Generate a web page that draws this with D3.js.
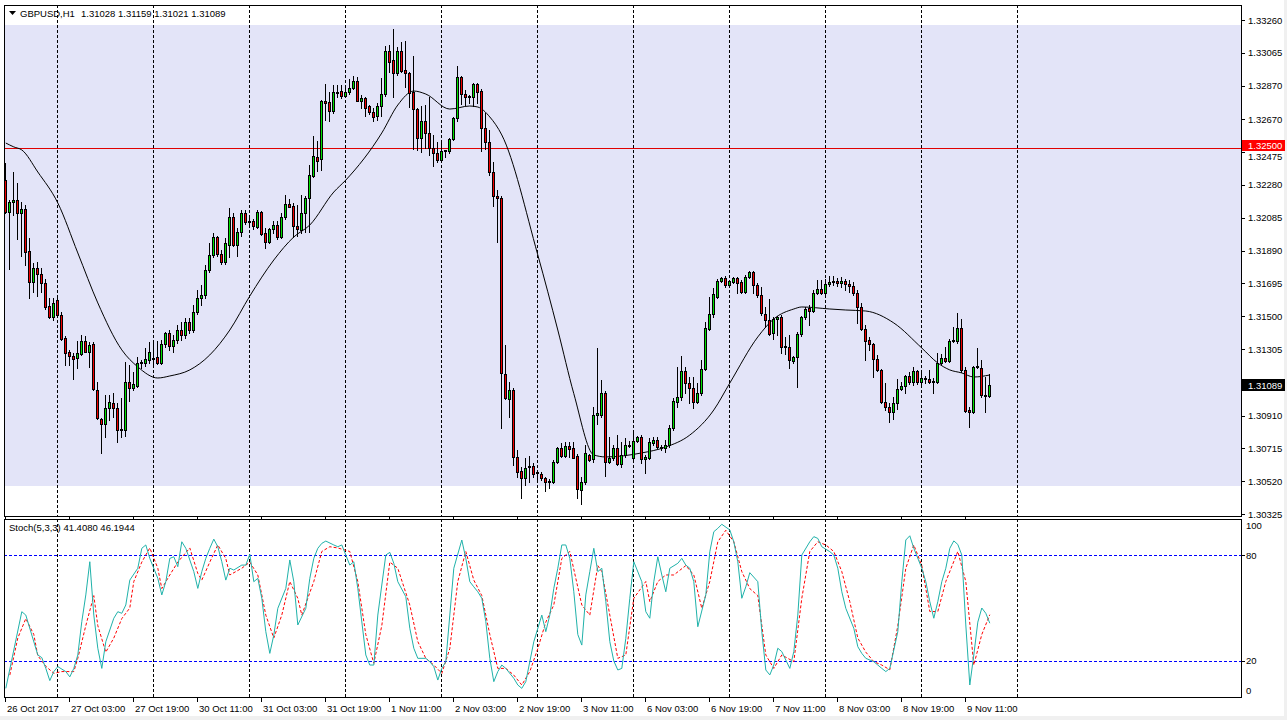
<!DOCTYPE html>
<html><head><meta charset="utf-8">
<script src="https://cdn.jsdelivr.net/npm/d3@7"></script>
<style>
html,body{margin:0;padding:0;background:#fff;overflow:hidden;}
svg{display:block;}
text{font-family:"Liberation Sans",Arial,sans-serif;font-size:9.5px;fill:#000;}
</style></head><body>
<svg id="c" width="1287" height="720"></svg>
<script>
// ---------- DATA ----------
const symbolTitle = "GBPUSD,H1";
const lastBarText = "1.31028 1.31159 1.31021 1.31089";
const stochTitle = "Stoch(5,3,3) 41.4080 46.1944";

const openP = [1.32310,1.32119,1.32179,1.32191,1.32113,1.32137,1.31888,1.31703,1.31786,1.31751,1.31697,1.31561,1.31495,1.31597,1.31507,1.31371,1.31288,1.31264,1.31252,1.31276,1.31353,1.31288,1.31335,1.31062,1.30890,1.30860,1.30955,1.30985,1.30955,1.30824,1.30824,1.31109,1.31074,1.31085,1.31222,1.31222,1.31240,1.31252,1.31258,1.31222,1.31335,1.31400,1.31323,1.31359,1.31418,1.31389,1.31466,1.31418,1.31525,1.31608,1.31626,1.31775,1.31864,1.31971,1.31870,1.31822,1.31924,1.32090,1.31924,1.32001,1.32113,1.32066,1.32066,1.32030,1.32119,1.31995,1.31941,1.32019,1.32042,1.31971,1.32090,1.32167,1.32155,1.32036,1.32013,1.32113,1.32203,1.32333,1.32446,1.32434,1.32779,1.32773,1.32719,1.32832,1.32838,1.32809,1.32832,1.32856,1.32898,1.32779,1.32797,1.32749,1.32713,1.32690,1.32749,1.32820,1.33076,1.33022,1.32945,1.33076,1.32963,1.32945,1.32832,1.32731,1.32559,1.32660,1.32589,1.32500,1.32470,1.32428,1.32482,1.32482,1.32553,1.32678,1.32922,1.32820,1.32809,1.32803,1.32880,1.32838,1.32618,1.32536,1.32357,1.32214,1.32203,1.31157,1.31009,1.31062,1.30664,1.30581,1.30539,1.30605,1.30611,1.30569,1.30563,1.30539,1.30515,1.30515,1.30634,1.30717,1.30670,1.30729,1.30717,1.30670,1.30468,1.30515,1.30676,1.30652,1.30914,1.30914,1.31044,1.30634,1.30658,1.30717,1.30622,1.30676,1.30729,1.30658,1.30759,1.30782,1.30652,1.30658,1.30747,1.30765,1.30723,1.30717,1.30735,1.30836,1.30991,1.31021,1.31175,1.31103,1.31074,1.30991,1.31044,1.31187,1.31424,1.31513,1.31614,1.31709,1.31727,1.31686,1.31703,1.31727,1.31703,1.31644,1.31733,1.31763,1.31686,1.31626,1.31513,1.31478,1.31400,1.31484,1.31495,1.31323,1.31318,1.31234,1.31258,1.31395,1.31495,1.31549,1.31531,1.31638,1.31662,1.31638,1.31692,1.31703,1.31709,1.31697,1.31709,1.31692,1.31680,1.31638,1.31555,1.31424,1.31359,1.31335,1.31247,1.31181,1.30991,1.30961,1.30931,1.30985,1.31068,1.31085,1.31145,1.31109,1.31175,1.31109,1.31128,1.31128,1.31115,1.31109,1.31222,1.31252,1.31234,1.31353,1.31353,1.31430,1.31181,1.30943,1.30931,1.31199,1.31193,1.31032,1.31028];
const highP = [1.32410,1.32191,1.32357,1.32292,1.32179,1.32161,1.31965,1.31816,1.31822,1.31786,1.31722,1.31608,1.31608,1.31614,1.31525,1.31383,1.31300,1.31282,1.31353,1.31389,1.31383,1.31347,1.31347,1.31109,1.30896,1.31032,1.31032,1.31044,1.30985,1.31015,1.31228,1.31210,1.31169,1.31258,1.31240,1.31312,1.31347,1.31347,1.31353,1.31359,1.31406,1.31418,1.31389,1.31448,1.31466,1.31489,1.31489,1.31567,1.31656,1.31686,1.31804,1.31935,1.31995,1.31977,1.31894,1.31965,1.32143,1.32113,1.32025,1.32131,1.32131,1.32084,1.32078,1.32131,1.32125,1.32025,1.32025,1.32066,1.32066,1.32113,1.32221,1.32197,1.32173,1.32161,1.32221,1.32215,1.32398,1.32571,1.32541,1.32785,1.32880,1.32832,1.32874,1.32874,1.32874,1.32856,1.32910,1.32928,1.32922,1.32815,1.32803,1.32755,1.32737,1.32767,1.32916,1.33105,1.33111,1.33207,1.33099,1.33129,1.33135,1.32951,1.33046,1.32737,1.32749,1.32755,1.32803,1.32577,1.32536,1.32530,1.32488,1.32559,1.32684,1.32987,1.32928,1.32844,1.32815,1.32886,1.32886,1.32850,1.32707,1.32607,1.32416,1.32250,1.32214,1.31329,1.31109,1.31074,1.30706,1.30605,1.30658,1.30670,1.30628,1.30587,1.30575,1.30545,1.30533,1.30646,1.30723,1.30747,1.30753,1.30753,1.30753,1.30682,1.30545,1.30735,1.30682,1.30961,1.31312,1.31121,1.31056,1.30782,1.30735,1.30794,1.30753,1.30776,1.30759,1.30812,1.30788,1.30794,1.30676,1.30776,1.30782,1.30782,1.30735,1.30765,1.30854,1.31015,1.31199,1.31264,1.31199,1.31140,1.31140,1.31103,1.31240,1.31466,1.31614,1.31668,1.31722,1.31733,1.31739,1.31715,1.31733,1.31733,1.31715,1.31745,1.31769,1.31769,1.31697,1.31674,1.31555,1.31603,1.31495,1.31501,1.31507,1.31377,1.31389,1.31264,1.31406,1.31501,1.31555,1.31567,1.31656,1.31715,1.31715,1.31722,1.31739,1.31739,1.31727,1.31733,1.31722,1.31715,1.31703,1.31656,1.31579,1.31448,1.31377,1.31341,1.31270,1.31187,1.31103,1.30985,1.31021,1.31128,1.31109,1.31151,1.31169,1.31199,1.31181,1.31181,1.31145,1.31181,1.31133,1.31282,1.31276,1.31318,1.31365,1.31436,1.31519,1.31484,1.31199,1.30961,1.31205,1.31312,1.31240,1.31140,1.31159];
const lowP = [1.32113,1.31781,1.32101,1.31960,1.31858,1.31804,1.31608,1.31644,1.31620,1.31644,1.31544,1.31489,1.31478,1.31501,1.31359,1.31210,1.31210,1.31128,1.31193,1.31270,1.31288,1.31199,1.31062,1.30890,1.30688,1.30782,1.30884,1.30902,1.30753,1.30782,1.30788,1.30997,1.31062,1.31080,1.31193,1.31205,1.31222,1.31199,1.31216,1.31216,1.31318,1.31300,1.31288,1.31341,1.31359,1.31371,1.31400,1.31406,1.31513,1.31567,1.31608,1.31763,1.31852,1.31858,1.31810,1.31810,1.31852,1.31918,1.31858,1.31977,1.32048,1.32042,1.32019,1.32025,1.31983,1.31906,1.31936,1.31995,1.31960,1.31965,1.32078,1.32149,1.31971,1.31977,1.31995,1.32001,1.32001,1.32328,1.32363,1.32369,1.32666,1.32660,1.32707,1.32803,1.32797,1.32803,1.32820,1.32850,1.32779,1.32737,1.32690,1.32701,1.32660,1.32666,1.32690,1.32809,1.32951,1.32803,1.32933,1.32951,1.32862,1.32743,1.32494,1.32488,1.32476,1.32500,1.32458,1.32392,1.32416,1.32416,1.32446,1.32470,1.32547,1.32660,1.32761,1.32755,1.32767,1.32749,1.32767,1.32482,1.32494,1.32339,1.32155,1.31941,1.30836,1.31009,1.30902,1.30616,1.30545,1.30420,1.30497,1.30515,1.30545,1.30527,1.30527,1.30462,1.30480,1.30509,1.30628,1.30664,1.30664,1.30664,1.30658,1.30420,1.30385,1.30503,1.30640,1.30634,1.30860,1.30902,1.30551,1.30628,1.30646,1.30616,1.30605,1.30664,1.30723,1.30652,1.30753,1.30628,1.30569,1.30652,1.30735,1.30717,1.30706,1.30694,1.30723,1.30824,1.30961,1.31003,1.31044,1.30985,1.30955,1.30985,1.31032,1.31181,1.31418,1.31495,1.31608,1.31703,1.31674,1.31674,1.31697,1.31638,1.31638,1.31638,1.31727,1.31638,1.31614,1.31507,1.31436,1.31389,1.31365,1.31389,1.31282,1.31276,1.31193,1.31222,1.31080,1.31383,1.31484,1.31448,1.31525,1.31632,1.31632,1.31632,1.31680,1.31686,1.31680,1.31674,1.31656,1.31644,1.31626,1.31460,1.31418,1.31240,1.31300,1.31140,1.31175,1.30985,1.30943,1.30872,1.30890,1.30949,1.31062,1.31044,1.31097,1.31091,1.31097,1.31080,1.31103,1.31103,1.31044,1.31103,1.31216,1.31228,1.31228,1.31347,1.31341,1.31169,1.30931,1.30842,1.30925,1.31193,1.31020,1.30931,1.31021];
const closeP = [1.32119,1.32179,1.32191,1.32113,1.32137,1.31882,1.31703,1.31786,1.31751,1.31697,1.31555,1.31495,1.31579,1.31507,1.31365,1.31282,1.31264,1.31247,1.31282,1.31353,1.31288,1.31329,1.31068,1.30896,1.30860,1.30955,1.30991,1.30955,1.30824,1.30830,1.31109,1.31074,1.31097,1.31222,1.31228,1.31247,1.31288,1.31247,1.31222,1.31335,1.31400,1.31323,1.31359,1.31418,1.31389,1.31466,1.31418,1.31525,1.31608,1.31626,1.31775,1.31864,1.31971,1.31870,1.31822,1.31936,1.32090,1.31924,1.32001,1.32113,1.32060,1.32060,1.32036,1.32119,1.31989,1.31941,1.32019,1.32042,1.31971,1.32090,1.32167,1.32149,1.32036,1.32019,1.32113,1.32203,1.32339,1.32452,1.32422,1.32779,1.32767,1.32719,1.32832,1.32826,1.32809,1.32832,1.32856,1.32898,1.32779,1.32797,1.32737,1.32713,1.32684,1.32749,1.32820,1.33076,1.33010,1.32945,1.33076,1.32957,1.32945,1.32826,1.32731,1.32559,1.32660,1.32589,1.32500,1.32470,1.32428,1.32482,1.32485,1.32553,1.32678,1.32922,1.32820,1.32803,1.32803,1.32880,1.32832,1.32618,1.32536,1.32357,1.32214,1.32203,1.31163,1.31015,1.31062,1.30664,1.30575,1.30539,1.30599,1.30611,1.30563,1.30572,1.30539,1.30515,1.30521,1.30634,1.30717,1.30670,1.30729,1.30711,1.30658,1.30474,1.30515,1.30688,1.30646,1.30914,1.30926,1.31044,1.30634,1.30658,1.30717,1.30622,1.30676,1.30735,1.30735,1.30759,1.30782,1.30652,1.30664,1.30753,1.30765,1.30723,1.30717,1.30735,1.30836,1.30997,1.31021,1.31175,1.31103,1.31074,1.30991,1.31044,1.31187,1.31430,1.31513,1.31632,1.31709,1.31727,1.31686,1.31709,1.31727,1.31697,1.31644,1.31733,1.31763,1.31686,1.31626,1.31519,1.31478,1.31395,1.31484,1.31495,1.31318,1.31318,1.31240,1.31258,1.31395,1.31495,1.31543,1.31531,1.31638,1.31662,1.31638,1.31692,1.31703,1.31709,1.31697,1.31709,1.31692,1.31680,1.31638,1.31555,1.31424,1.31353,1.31335,1.31247,1.31181,1.30991,1.30961,1.30931,1.30985,1.31068,1.31085,1.31145,1.31109,1.31175,1.31109,1.31133,1.31131,1.31109,1.31109,1.31222,1.31252,1.31234,1.31353,1.31356,1.31430,1.31181,1.30937,1.30931,1.31199,1.31202,1.31032,1.31029,1.31089];

// moving average (at sample bars)
const maIdx = [0,2,4,8,13,18,23,29,33,38,41,46,51,56,61,67,72,76,82,85,94,98,102,105,111,116,118,121,124,133,138,142,147,150,159,165,171,177,181,188,192,197,199,206,210,215,222,229,233,236,239,242,246];
const maVal = [1.32529,1.32506,1.32488,1.32357,1.32173,1.31876,1.31579,1.31300,1.31199,1.31133,1.31145,1.31181,1.31270,1.31418,1.31620,1.31834,1.31971,1.32042,1.32238,1.32309,1.32589,1.32755,1.32838,1.32820,1.32731,1.32749,1.32743,1.32684,1.32577,1.31864,1.31418,1.31040,1.30676,1.30664,1.30688,1.30723,1.30794,1.30943,1.31103,1.31377,1.31484,1.31543,1.31555,1.31543,1.31537,1.31531,1.31460,1.31311,1.31222,1.31181,1.31163,1.31139,1.31151];

// stochastic %K and %D
const kIdx = [0,4,5,8,9,10,11,12,13,15,16,17,18,19,20,21,22,23,24,25,27,28,29,30,31,33,34,35,36,38,39,40,41,42,43,44,45,47,48,49,50,51,52,53,54,55,56,57,59,60,61,62,63,64,65,66,67,68,70,71,72,73,75,76,77,78,79,80,82,83,84,85,86,87,88,90,91,92,93,95,96,97,98,100,101,102,103,105,106,107,108,109,110,111,112,114,115,116,117,118,119,120,121,122,123,124,125,127,128,129,130,131,132,134,135,136,137,138,139,140,141,142,143,144,145,146,147,148,149,150,151,152,153,154,155,156,157,159,160,161,162,163,164,165,166,168,169,170,171,172,173,175,176,177,178,179,181,182,183,184,185,186,188,189,190,191,192,193,194,196,197,198,199,201,202,203,204,206,207,208,209,210,212,213,214,215,217,218,219,220,221,223,224,225,226,227,229,230,231,232,233,234,235,236,237,238,239,240,241,242,243,244,245,246];
const kVal = [4.5,47.9,46,23.4,21.9,15.8,8.9,14,16.8,14,11,15.8,23.4,42.3,57.4,76.2,46,27.2,15.8,30.9,44.2,47.9,47,51.7,65.8,72.5,83.8,85.7,78.1,66.8,57.4,64.9,78.1,79,73.4,87.5,83.8,70.6,61.1,70.6,78.1,83.8,89,84.7,76.2,65.8,72.5,71.5,74.3,74.3,80.4,64.9,66.8,55.5,36.6,24.3,34.7,49.8,61.1,77.2,64.9,40.4,49.8,66.8,78.1,83.8,86.6,87.9,85.7,84.7,85.7,80,74.3,76.2,61.1,23.4,17.7,17.7,46,80,81.5,75.3,64.9,56.4,38.5,27.2,21.5,21.5,19.6,16.8,9.2,15.8,19.6,46,72.5,88.5,78.1,64.9,62,59.2,55.5,42.3,21.5,8.3,14,17.7,15.8,10.2,6.4,4.5,8.3,19.6,30.9,46,36.6,46,61.1,72.5,85.7,85.7,78.1,59.2,35,29,57.4,70.6,83.8,70.6,72.5,53.6,31,20,14.9,15.8,32.8,55.5,76.2,64.9,47.9,44.2,64.9,79,68.7,59.2,72.5,75.3,78.1,74.3,72.5,64.9,39.4,57.4,81.9,93.2,95.1,97.4,94.2,87.5,76.2,55.5,62,70,64.9,36.6,14.9,12.1,17.7,27.2,25.3,15.8,25.3,46,80,87.5,90.4,89.4,84.7,81.9,80,72.5,59.2,49.8,38.5,28.1,24.3,21.5,19.6,17.7,15.8,14,15.8,36.6,64.9,88.5,90.9,83.8,72.5,64.9,53.6,44.2,53.6,64.9,72.5,83.8,88,86,80,40.4,6.4,23.4,42,50,47,41.4];
const dIdx = [1,3,5,7,8,10,12,14,17,18,20,22,23,25,27,29,31,32,34,36,38,39,41,43,46,48,49,51,53,55,56,59,61,63,65,67,69,71,73,74,77,79,81,83,86,88,90,92,94,96,98,101,103,105,107,109,111,113,115,117,119,121,123,125,127,129,131,133,135,137,139,141,144,146,148,149,151,153,155,157,160,161,163,165,167,170,172,174,176,178,180,182,184,186,188,190,192,194,197,199,201,203,205,207,209,211,213,215,217,219,221,223,225,227,229,231,233,235,238,240,242,244,246];
const dVal = [12,33,44,35,23,17,13,14,14,21.5,40,57,40,25,33,44,50,65,76,84,72.5,61,68.7,76,84,69.6,65.8,76,85.7,78,68.7,72.5,76,68.7,46,33,46,65,55.5,46,65,82,84.7,84,82,65,35,18.7,40,76,72.5,51.7,31,21.5,17.7,13,27,65,82,65.8,57,35,15.8,15.8,12,6.4,14,27,42,51.7,78,82,51.7,46,74,70.6,46,21.5,23.4,55.5,65,53.6,65,68.7,68.7,74,68.7,49.8,65,87.5,94,87.5,70.6,61,57,23.4,15.8,23.4,19.6,55.5,82,87.5,85.7,82,70.6,53.6,33,25,19.6,17.7,15,40,72.5,85.7,74,48,48,65,82,65,17.7,35,46.2];
const stochLevels = [80, 20];
const stochTicks = [100, 80, 20, 0];

const priceTicks = ["1.33260","1.33065","1.32870","1.32670","1.32475","1.32280","1.32085","1.31890","1.31695","1.31500","1.31305","1.31105","1.30910","1.30715","1.30520","1.30325"];
const hLinePrice = 1.32500;
const lastPrice = 1.31089;
const bandTop = 1.33230, bandBottom = 1.30491;

const timeLabels = ["26 Oct 2017","27 Oct 03:00","27 Oct 19:00","30 Oct 11:00","31 Oct 03:00","31 Oct 19:00","1 Nov 11:00","2 Nov 03:00","2 Nov 19:00","3 Nov 11:00","6 Nov 03:00","6 Nov 19:00","7 Nov 11:00","8 Nov 03:00","8 Nov 19:00","9 Nov 11:00"];
const timeLabelIdx = [0,16,32,48,64,80,96,112,128,144,160,176,192,208,224,240];
const gridIdx = [13,37,61,85,109,133,157,181,205,229,253];

// ---------- LAYOUT ----------
const L = 4, R = 1241, mainTop = 5, mainBot = 516, stTop = 519, stBot = 697;
const svg = d3.select('#c');
const x = d3.scaleLinear().domain([0, 246]).range([5.3, 989.3]);
const y = d3.scaleLinear().domain([1.30325, 1.33260]).range([514, 20]);
const ys = d3.scaleLinear().domain([0, 100]).range([696.3, 519.7]);
const px = i => Math.round(x(i));

const defs = svg.append('defs');
defs.append('clipPath').attr('id','clipMain').append('rect').attr('x',L+1).attr('y',mainTop+1).attr('width',R-L-1).attr('height',mainBot-mainTop-1);
defs.append('clipPath').attr('id','clipSt').append('rect').attr('x',L+1).attr('y',stTop+1).attr('width',R-L-1).attr('height',stBot-stTop-1);

svg.append('rect').attr('width',1287).attr('height',720).attr('fill','#fff');
svg.append('rect').attr('x',1284).attr('y',0).attr('width',3).attr('height',720).attr('fill','#f0f0f0');
svg.append('rect').attr('x',0).attr('y',716).attr('width',1287).attr('height',4).attr('fill','#f0f0f0');

// band
const gm = svg.append('g').attr('clip-path','url(#clipMain)');
gm.append('rect').attr('x',L).attr('width',R-L).attr('y',Math.round(y(bandTop))).attr('height',Math.round(y(bandBottom))-Math.round(y(bandTop))).attr('fill','#e3e4f8');

// grid lines
gm.selectAll('line.grid').data(gridIdx).join('line')
  .attr('x1',d=>px(d)+0.5).attr('x2',d=>px(d)+0.5).attr('y1',mainTop).attr('y2',mainBot)
  .attr('stroke','#000').attr('stroke-dasharray','3,2');

// horizontal line
gm.append('line').attr('x1',L).attr('x2',R).attr('y1',Math.round(y(hLinePrice))+0.5).attr('y2',Math.round(y(hLinePrice))+0.5).attr('stroke','#e00000');

// MA
gm.append('path').datum(maIdx.map((d,k)=>[d,maVal[k]]))
  .attr('d', d3.line().curve(d3.curveMonotoneX).x(d=>x(d[0])+0.5).y(d=>y(d[1])))
  .attr('fill','none').attr('stroke','#000').attr('stroke-width',1);

// candles
const idx = d3.range(closeP.length);
const cg = gm.append('g').attr('shape-rendering','crispEdges');
cg.selectAll('line.w').data(idx).join('line')
  .attr('x1',i=>px(i)+0.5).attr('x2',i=>px(i)+0.5)
  .attr('y1',i=>Math.round(y(highP[i]))).attr('y2',i=>Math.round(y(lowP[i]))+1)
  .attr('stroke','#000');
idx.forEach(i=>{
  const yO = Math.round(y(openP[i])), yC = Math.round(y(closeP[i]));
  const top = Math.min(yO,yC), bot = Math.max(yO,yC), c = px(i);
  if (bot - top < 1) {
    cg.append('line').attr('x1',c-1).attr('x2',c+2).attr('y1',top+0.5).attr('y2',top+0.5).attr('stroke','#000');
  } else {
    cg.append('rect').attr('x',c-0.5).attr('y',top+0.5).attr('width',2).attr('height',bot-top)
      .attr('fill', closeP[i] > openP[i] ? '#00e000' : '#f00000').attr('stroke','#000');
  }
});

// frames
svg.append('rect').attr('x',L+0.5).attr('y',mainTop+0.5).attr('width',R-L).attr('height',mainBot-mainTop).attr('fill','none').attr('stroke','#000');
svg.append('rect').attr('x',L+0.5).attr('y',stTop+0.5).attr('width',R-L).attr('height',stBot-stTop).attr('fill','none').attr('stroke','#000');

// header
svg.append('path').attr('d','M9,11 L16,11 L12.5,15 Z').attr('fill','#000');
svg.append('text').attr('x',20).attr('y',17).text(symbolTitle);
svg.append('text').attr('x',81).attr('y',17).text(lastBarText);

// price axis
const yh = Math.round(y(hLinePrice));
const yl = Math.round(y(lastPrice));
const pa = svg.append('g');
pa.selectAll('line').data(priceTicks).join('line')
  .attr('x1',R).attr('x2',R+4).attr('y1',d=>Math.round(y(+d))+0.5).attr('y2',d=>Math.round(y(+d))+0.5).attr('stroke','#000');
pa.selectAll('text').data(priceTicks).join('text')
  .attr('x',R+7)
  .attr('y',d=>{ const v = y(+d); const dd = v - yh; return (dd > 0 && dd < 11) ? yh + 11.5 : v + 3.5; })
  .text(d=>d);
// red marker for the horizontal line, black marker for the last price
pa.append('rect').attr('x',R+1).attr('y',yh-8).attr('width',43).attr('height',11).attr('fill','#ff0000');
pa.append('text').attr('x',R+7).attr('y',yh+0.5).style('fill','#fff').text(hLinePrice.toFixed(5));
pa.append('rect').attr('x',R+1).attr('y',yl-6).attr('width',43).attr('height',12).attr('fill','#000');
pa.append('text').attr('x',R+7).attr('y',yl+3.5).style('fill','#fff').text(lastPrice.toFixed(5));

// stochastic panel
const gs = svg.append('g').attr('clip-path','url(#clipSt)');
gs.selectAll('line.grid').data(gridIdx).join('line')
  .attr('x1',d=>px(d)+0.5).attr('x2',d=>px(d)+0.5).attr('y1',stTop).attr('y2',stBot)
  .attr('stroke','#000').attr('stroke-dasharray','3,2');
gs.selectAll('line.lvl').data(stochLevels).join('line')
  .attr('x1',L).attr('x2',R).attr('y1',d=>Math.round(ys(d))+0.5).attr('y2',d=>Math.round(ys(d))+0.5)
  .attr('stroke','#0000ff').attr('stroke-dasharray','3,2');
gs.append('path').datum(dIdx.map((d,k)=>[d,dVal[k]]))
  .attr('d', d3.line().x(d=>x(d[0])+0.5).y(d=>ys(d[1])))
  .attr('fill','none').attr('stroke','#ff0000').attr('stroke-dasharray','3,2');
gs.append('path').datum(kIdx.map((d,k)=>[d,kVal[k]]))
  .attr('d', d3.line().x(d=>x(d[0])+0.5).y(d=>ys(d[1])))
  .attr('fill','none').attr('stroke','#20b2aa');
svg.append('text').attr('x',9).attr('y',531).text(stochTitle);

const sa = svg.append('g');
sa.selectAll('line').data(stochLevels).join('line')
  .attr('x1',R).attr('x2',R+4).attr('y1',d=>Math.round(ys(d))+0.5).attr('y2',d=>Math.round(ys(d))+0.5).attr('stroke','#000');
sa.selectAll('text').data(stochTicks).join('text')
  .attr('x',R+5).attr('y',d=>Math.min(Math.max(ys(d),525),690)+3.5).text(d=>d);

// time axis
const ta = svg.append('g');
ta.selectAll('line.t1').data(timeLabelIdx).join('line')
  .attr('x1',d=>px(d)+0.5).attr('x2',d=>px(d)+0.5).attr('y1',stBot).attr('y2',stBot+5).attr('stroke','#000');
ta.selectAll('line.t2').data(timeLabelIdx).join('line')
  .attr('x1',d=>px(d)+0.5).attr('x2',d=>px(d)+0.5).attr('y1',mainBot).attr('y2',stTop).attr('stroke','#000');
ta.selectAll('text').data(timeLabelIdx).join('text')
  .attr('x',d=>px(d)+2).attr('y',712).text((d,k)=>timeLabels[k]);
</script>
</body></html>
